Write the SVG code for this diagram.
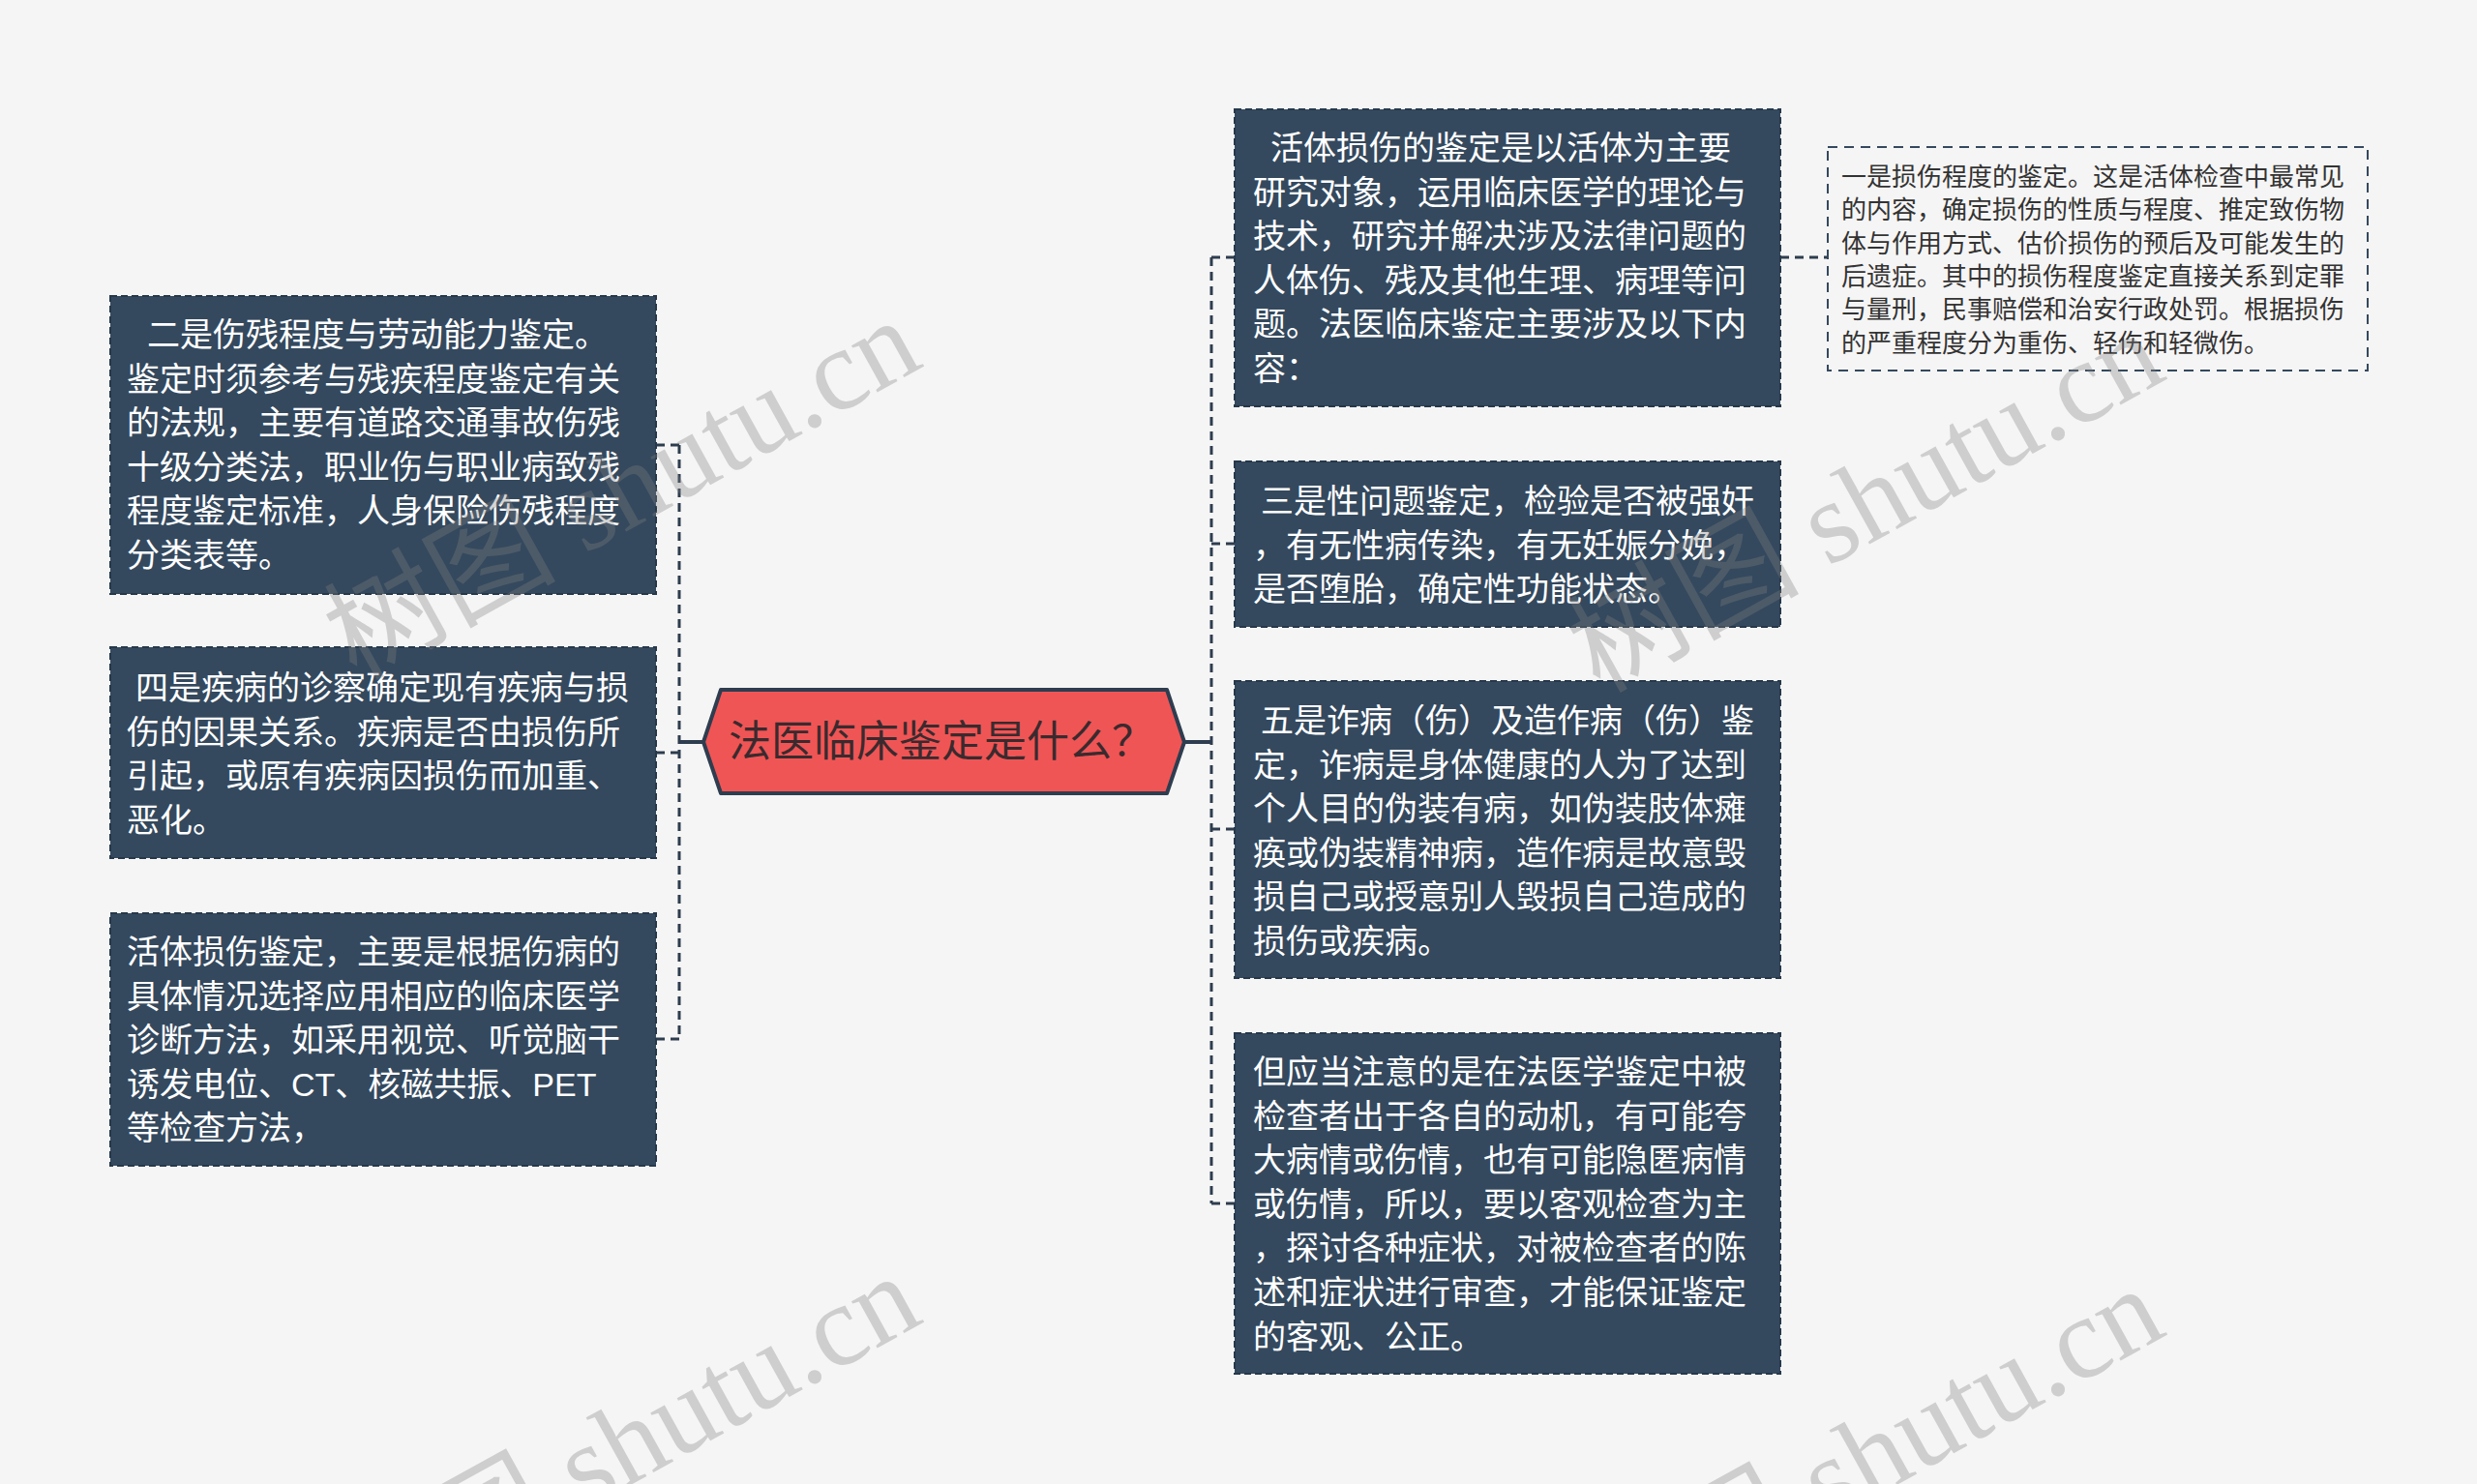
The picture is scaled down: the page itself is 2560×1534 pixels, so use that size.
<svg xmlns="http://www.w3.org/2000/svg" width="2560" height="1534" viewBox="0 0 2560 1534">
<style>
.bg{fill:#f5f5f5}
.box{fill:#34495e;stroke:#26384a;stroke-width:2;stroke-dasharray:7 4}
.note{fill:none;stroke:#34495e;stroke-width:2;stroke-dasharray:10 7}
.t{font-family:"Liberation Sans","Noto Sans CJK SC",sans-serif;font-size:34px;fill:#ffffff}
.nt{font-family:"Liberation Sans","Noto Sans CJK SC",sans-serif;font-size:26px;fill:#333333}
.ct{font-family:"Liberation Sans","Noto Sans CJK SC",sans-serif;font-size:44px;fill:#3a2a2e}
.hex{fill:#f05555;stroke:#2e3d4f;stroke-width:4;stroke-linejoin:round}
.dash{fill:none;stroke:#2e3d4f;stroke-width:3;stroke-dasharray:9 6}
.solid{fill:none;stroke:#2e3d4f;stroke-width:4}
.wm{font-family:"Liberation Serif","Noto Sans CJK SC",serif;font-size:120px;fill:#808080;opacity:0.33}
</style>
<rect class="bg" x="0" y="0" width="2560" height="1534"/>

<g id="connectors">
  <path class="solid" d="M702 767 H728"/>
  <path class="dash" d="M702 460 V1074"/>
  <path class="dash" d="M678 460 H702"/>
  <path class="dash" d="M678 778 H702"/>
  <path class="dash" d="M678 1074 H702"/>
  <path class="solid" d="M1223 767 H1252"/>
  <path class="dash" d="M1252 266 V1244"/>
  <path class="dash" d="M1252 266 H1276"/>
  <path class="dash" d="M1252 562 H1276"/>
  <path class="dash" d="M1252 857 H1276"/>
  <path class="dash" d="M1252 1244 H1276"/>
  <path class="dash" d="M1840 266 H1889"/>
</g>

<g id="center">
  <polygon class="hex" points="727,767 745,713 1206,713 1224,767 1206,820 745,820"/>
  <text class="ct" x="753" y="782">法医临床鉴定是什么？</text>
</g>

<g id="left1">
  <rect class="box" x="114" y="306" width="564" height="308"/>
  <text class="t"><tspan x="152" y="358">二是伤残程度与劳动能力鉴定。</tspan><tspan x="131" y="403.6">鉴定时须参考与残疾程度鉴定有关</tspan><tspan x="131" y="449.2">的法规，主要有道路交通事故伤残</tspan><tspan x="131" y="494.8">十级分类法，职业伤与职业病致残</tspan><tspan x="131" y="540.4">程度鉴定标准，人身保险伤残程度</tspan><tspan x="131" y="586">分类表等。</tspan></text>
</g>

<g id="left2">
  <rect class="box" x="114" y="669" width="564" height="218"/>
  <text class="t"><tspan x="140" y="723">四是疾病的诊察确定现有疾病与损</tspan><tspan x="131" y="768.6">伤的因果关系。疾病是否由损伤所</tspan><tspan x="131" y="814.2">引起，或原有疾病因损伤而加重、</tspan><tspan x="131" y="859.8">恶化。</tspan></text>
</g>

<g id="left3">
  <rect class="box" x="114" y="944" width="564" height="261"/>
  <text class="t"><tspan x="131" y="996">活体损伤鉴定，主要是根据伤病的</tspan><tspan x="131" y="1041.6">具体情况选择应用相应的临床医学</tspan><tspan x="131" y="1087.2">诊断方法，如采用视觉、听觉脑干</tspan><tspan x="131" y="1132.8">诱发电位、CT、核磁共振、PET</tspan><tspan x="131" y="1178.4">等检查方法，</tspan></text>
</g>

<g id="right1">
  <rect class="box" x="1276" y="113" width="564" height="307"/>
  <text class="t"><tspan x="1313" y="165">活体损伤的鉴定是以活体为主要</tspan><tspan x="1295" y="210.6">研究对象，运用临床医学的理论与</tspan><tspan x="1295" y="256.2">技术，研究并解决涉及法律问题的</tspan><tspan x="1295" y="301.8">人体伤、残及其他生理、病理等问</tspan><tspan x="1295" y="347.4">题。法医临床鉴定主要涉及以下内</tspan><tspan x="1295" y="393">容：</tspan></text>
</g>

<g id="note">
  <rect class="note" x="1889" y="152" width="558" height="231"/>
  <text class="nt"><tspan x="1903" y="192">一是损伤程度的鉴定。这是活体检查中最常见</tspan><tspan x="1903" y="226.3">的内容，确定损伤的性质与程度、推定致伤物</tspan><tspan x="1903" y="260.6">体与作用方式、估价损伤的预后及可能发生的</tspan><tspan x="1903" y="294.9">后遗症。其中的损伤程度鉴定直接关系到定罪</tspan><tspan x="1903" y="329.2">与量刑，民事赔偿和治安行政处罚。根据损伤</tspan><tspan x="1903" y="363.5">的严重程度分为重伤、轻伤和轻微伤。</tspan></text>
</g>

<g id="right2">
  <rect class="box" x="1276" y="477" width="564" height="171"/>
  <text class="t"><tspan x="1303" y="530">三是性问题鉴定，检验是否被强奸</tspan><tspan x="1295" y="575.6">，有无性病传染，有无妊娠分娩，</tspan><tspan x="1295" y="621.2">是否堕胎，确定性功能状态。</tspan></text>
</g>

<g id="right3">
  <rect class="box" x="1276" y="704" width="564" height="307"/>
  <text class="t"><tspan x="1303" y="757">五是诈病（伤）及造作病（伤）鉴</tspan><tspan x="1295" y="802.6">定，诈病是身体健康的人为了达到</tspan><tspan x="1295" y="848.2">个人目的伪装有病，如伪装肢体瘫</tspan><tspan x="1295" y="893.8">痪或伪装精神病，造作病是故意毁</tspan><tspan x="1295" y="939.4">损自己或授意别人毁损自己造成的</tspan><tspan x="1295" y="985">损伤或疾病。</tspan></text>
</g>

<g id="right4">
  <rect class="box" x="1276" y="1068" width="564" height="352"/>
  <text class="t"><tspan x="1295" y="1120">但应当注意的是在法医学鉴定中被</tspan><tspan x="1295" y="1165.6">检查者出于各自的动机，有可能夸</tspan><tspan x="1295" y="1211.2">大病情或伤情，也有可能隐匿病情</tspan><tspan x="1295" y="1256.8">或伤情，所以，要以客观检查为主</tspan><tspan x="1295" y="1302.4">，探讨各种症状，对被检查者的陈</tspan><tspan x="1295" y="1348">述和症状进行审查，才能保证鉴定</tspan><tspan x="1295" y="1393.6">的客观、公正。</tspan></text>
</g>

<g id="watermarks">
  <text class="wm" text-anchor="middle" transform="translate(643 506) rotate(-29)" y="40">树图 shutu.cn</text>
  <text class="wm" text-anchor="middle" transform="translate(1928 519) rotate(-29)" y="40">树图 shutu.cn</text>
  <text class="wm" text-anchor="middle" transform="translate(643 1494) rotate(-29)" y="40">树图 shutu.cn</text>
  <text class="wm" text-anchor="middle" transform="translate(1928 1507) rotate(-29)" y="40">树图 shutu.cn</text>
</g>
</svg>
